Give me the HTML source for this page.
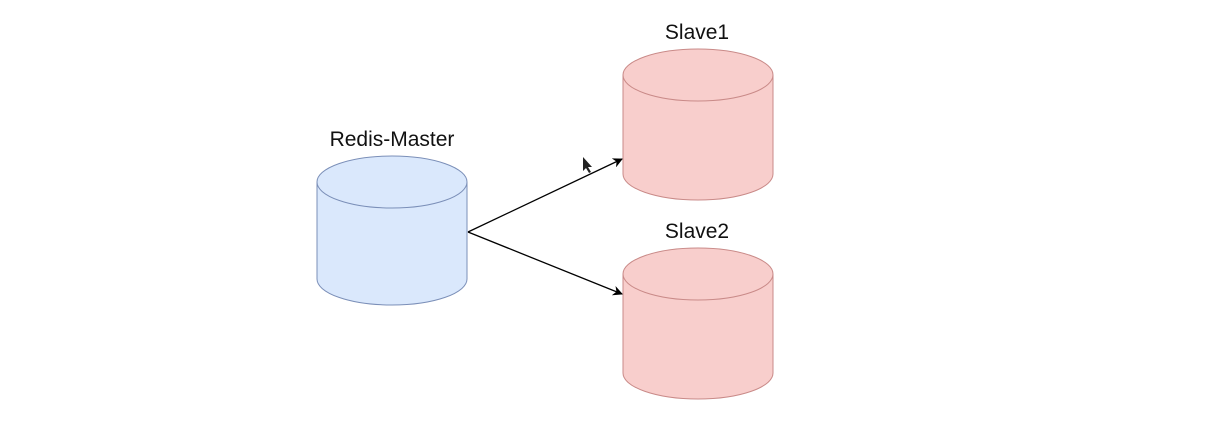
<!DOCTYPE html>
<html><head><meta charset="utf-8"><style>body{margin:0;background:#fff}svg{display:block}</style></head>
<body>
<svg width="1223" height="438" xmlns="http://www.w3.org/2000/svg" font-family="Liberation Sans, sans-serif">
<defs><marker id="a" markerWidth="10" markerHeight="10" refX="9" refY="5" orient="auto" markerUnits="userSpaceOnUse"><path d="M0,0 L10,5 L0,10 L3,5 Z" fill="#000"/></marker></defs>
<g stroke-width="1">
<path d="M317,182 v97 a75,26 0 0 0 150,0 v-97" fill="#dae8fc" stroke="#7b8fb8"/>
<ellipse cx="392" cy="182" rx="75" ry="26" fill="#dae8fc" stroke="#7b8fb8"/>
<path d="M623,75 v99 a75,26 0 0 0 150,0 v-99" fill="#f8cecc" stroke="#c98a88"/>
<ellipse cx="698" cy="75" rx="75" ry="26" fill="#f8cecc" stroke="#c98a88"/>
<path d="M623,274 v99 a75,26 0 0 0 150,0 v-99" fill="#f8cecc" stroke="#c98a88"/>
<ellipse cx="698" cy="274" rx="75" ry="26" fill="#f8cecc" stroke="#c98a88"/>
</g>
<line x1="468" y1="232" x2="622" y2="159" stroke="#000" stroke-width="1.3" marker-end="url(#a)"/>
<line x1="468" y1="232" x2="622" y2="294" stroke="#000" stroke-width="1.3" marker-end="url(#a)"/>
<path d="M583,157 l0,14 l3,-3 l3,5 l2,-1 l-3,-5 l4,0 z" fill="#222"/>
<g font-size="21" fill="#111" text-anchor="middle">
<text x="392" y="146">Redis-Master</text>
<text x="697" y="39">Slave1</text>
<text x="697" y="238">Slave2</text>
</g>
</svg>
</body></html>
